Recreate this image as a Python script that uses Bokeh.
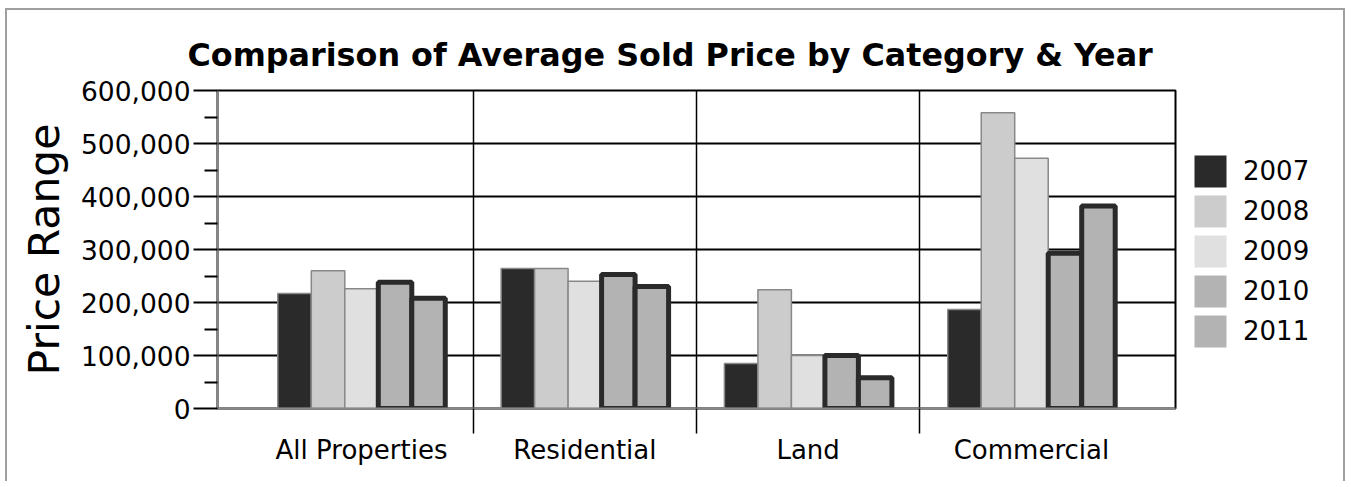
import numpy as np
from bokeh.plotting import figure
from bokeh.models import (Range1d, FixedTicker, NumeralTickFormatter, Legend, LegendItem, Title, Row)
from bokeh.embed import file_html
from bokeh.resources import INLINE

categories = ["All Properties", "Residential", "Land", "Commercial"]
years = ["2007", "2008", "2009", "2010", "2011"]
v2007 = [217000, 264000, 85000, 187000]
v2008 = [260000, 264000, 224000, 558000]
v2009 = [226000, 240000, 100000, 472000]
v2010 = [238000, 253000, 100000, 293000]
v2011 = [208000, 230000, 58000, 382000]
y_ticks = [0, 100000, 200000, 300000, 400000, 500000, 600000]
y_minor = [50000, 150000, 250000, 350000, 450000, 550000]

series = [v2007, v2008, v2009, v2010, v2011]
fills = ["#2a2a2a", "#cccccc", "#e0e0e0", "#b3b3b3", "#b3b3b3"]
lines = ["#888888", "#888888", "#888888", "#2a2a2a", "#2a2a2a"]
lwidths = [1.5, 1.5, 1.5, 5, 5]
offsets = [-0.3, -0.15, 0.0, 0.15, 0.3]
bar_w = 0.15

FONT = "DejaVu Sans"

p = figure(width=1170, height=471,
           x_range=Range1d(-0.645, 3.645), y_range=Range1d(0, 600000),
           output_backend="svg", toolbar_location=None,
           min_border_left=210, min_border_right=2, min_border_top=80, min_border_bottom=73)

p.title = Title(text="Comparison of Average Sold Price by Category & Year", align="left",
                text_font=FONT, text_font_size="31.8px", text_font_style="bold",
                text_color="black", offset=-30, standoff=36)

xs = np.arange(len(categories))
for vals, fc, lc, lw, off in zip(series, fills, lines, lwidths, offsets):
    p.vbar(x=xs + off, top=vals, bottom=0, width=bar_w,
           fill_color=fc, line_color=lc, line_width=lw)

# y axis
p.yaxis.ticker = FixedTicker(ticks=y_ticks, minor_ticks=y_minor)
p.yaxis.formatter = NumeralTickFormatter(format="0,0")
p.yaxis.major_tick_out = 24
p.yaxis.major_tick_in = 0
p.yaxis.minor_tick_out = 13
p.yaxis.minor_tick_in = 0
p.yaxis.major_tick_line_color = "black"
p.yaxis.minor_tick_line_color = "black"
p.yaxis.major_tick_line_width = 2
p.yaxis.minor_tick_line_width = 2
p.yaxis.axis_line_color = "#888888"
p.yaxis.axis_line_width = 2
p.yaxis.major_label_standoff = 3
p.yaxis.major_label_text_font = FONT
p.yaxis.major_label_text_font_size = "26.5px"
p.yaxis.major_label_text_color = "black"
p.yaxis.axis_label = "Price Range"
p.yaxis.axis_label_text_font = FONT
p.yaxis.axis_label_text_font_size = "42.5px"
p.yaxis.axis_label_text_font_style = "normal"
p.yaxis.axis_label_text_color = "black"
p.yaxis.axis_label_standoff = 9

# x axis
sep = [i + 0.5 for i in range(len(categories) - 1)]
p.xaxis.ticker = FixedTicker(ticks=list(range(len(categories))), minor_ticks=sep)
p.xaxis.major_label_overrides = {i: c for i, c in enumerate(categories)}
p.xaxis.major_tick_out = 0
p.xaxis.major_tick_in = 0
p.xaxis.minor_tick_out = 25
p.xaxis.minor_tick_in = 0
p.xaxis.minor_tick_line_color = "black"
p.xaxis.minor_tick_line_width = 1.5
p.xaxis.axis_line_color = "#888888"
p.xaxis.axis_line_width = 2
p.xaxis.major_label_standoff = 1
p.xaxis.major_label_text_font = FONT
p.xaxis.major_label_text_font_size = "26px"
p.xaxis.major_label_text_color = "black"

# grids
p.xgrid.ticker = FixedTicker(ticks=sep)
p.xgrid.grid_line_color = "black"
p.xgrid.grid_line_width = 1.5
p.ygrid.ticker = FixedTicker(ticks=y_ticks[1:])
p.ygrid.grid_line_color = "black"
p.ygrid.grid_line_width = 2

p.outline_line_color = "black"
p.outline_line_width = 2

# legend panel (separate small figure so the legend is not clipped)
lf = figure(width=166, height=471, output_backend="svg", toolbar_location=None,
            x_axis_type=None, y_axis_type=None, min_border=0,
            x_range=Range1d(0, 1), y_range=Range1d(0, 1))
lf.outline_line_color = None
lf.xgrid.visible = False
lf.ygrid.visible = False
legend_items = []
for yr, vals, fc, off in zip(years, series, fills, offsets):
    sw = lf.vbar(x=xs + off, top=vals, bottom=0, width=bar_w,
                 fill_color=fc, line_color=None, visible=False)
    legend_items.append(LegendItem(label=yr, renderers=[sw]))
legend = Legend(items=legend_items, location=(13, 57), glyph_width=40, glyph_height=40,
                spacing=0, padding=0, margin=0, label_standoff=13,
                label_text_font=FONT, label_text_font_size="26px", label_text_color="black",
                border_line_color=None, background_fill_alpha=0,
                inactive_fill_alpha=0, click_policy="none")
lf.add_layout(legend)

layout = Row(children=[p, lf], spacing=0,
             styles={"border": "2px solid #a0a0a0", "border-bottom": "none",
                     "margin-left": "5px", "margin-top": "8px"})

open("out.html", "w").write(file_html(layout, INLINE))
